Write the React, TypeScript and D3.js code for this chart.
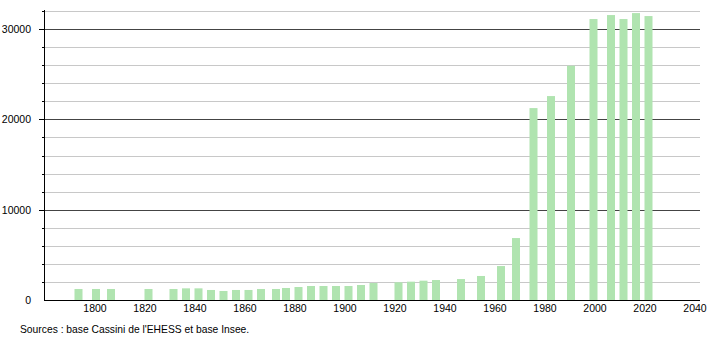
import React from "react";
import * as d3 from "d3";

const years = [1793, 1800, 1806, 1821, 1831, 1836, 1841, 1846, 1851, 1856, 1861, 1866, 1872, 1876, 1881, 1886, 1891, 1896, 1901, 1906, 1911, 1921, 1926, 1931, 1936, 1946, 1954, 1962, 1968, 1975, 1982, 1990, 1999, 2006, 2011, 2016, 2021];
const population = [1220, 1220, 1220, 1220, 1220, 1290, 1290, 1110, 1000, 1110, 1110, 1220, 1220, 1330, 1440, 1550, 1550, 1550, 1550, 1660, 1880, 1960, 2030, 2140, 2210, 2320, 2660, 3760, 6860, 21250, 22580, 25940, 31110, 31550, 31110, 31770, 31440];
const xTicks = [1800, 1820, 1840, 1860, 1880, 1900, 1920, 1940, 1960, 1980, 2000, 2020, 2040];
const yLabelTicks = [0, 10000, 20000, 30000];
const gridTicks = d3.range(2000, 32001, 2000);
const sourceText = "Sources : base Cassini de l'EHESS et base Insee.";

const W = 710;
const H = 340;
const left = 44;
const right = 700;
const bottom = 300;
const top = 10;

export default function App() {
  const x = d3.scaleLinear().domain([1779.6, 2042]).range([left, right]);
  const y = d3.scaleLinear().domain([0, 32000]).range([bottom, 11]);
  const barW = 8;
  const font = "'Liberation Sans', Arial, sans-serif";
  return (
    <svg width={W} height={H} style={{ position: "absolute", left: 0, top: 0 }} fontFamily={font}>
      <rect x={0} y={0} width={W} height={H} fill="#fff" />
      {gridTicks.map((t) => (
        <line key={"g" + t} x1={left} x2={right} y1={Math.round(y(t)) + 0.5} y2={Math.round(y(t)) + 0.5}
          stroke={t % 10000 === 0 ? "#444" : "#c8c8c8"} strokeWidth={1} />
      ))}
      {gridTicks.map((t) => (
        <line key={"t" + t} x1={t % 10000 === 0 ? left - 5 : left - 2} x2={left} y1={Math.round(y(t)) + 0.5} y2={Math.round(y(t)) + 0.5}
          stroke="#000" strokeWidth={1} />
      ))}
      {years.map((yr, i) => (
        <rect key={yr} x={x(yr) - barW / 2 + 1} y={y(population[i])} width={barW} height={bottom - y(population[i])} fill="#b0e4b0" />
      ))}
      <line x1={left + 0.5} x2={left + 0.5} y1={top} y2={bottom} stroke="#000" />
      <line x1={left} x2={right} y1={bottom + 0.5} y2={bottom + 0.5} stroke="#000" />
      {yLabelTicks.map((t) => (
        <text key={"yl" + t} x={31} y={y(t) + 4} textAnchor="end" fontSize={10.5} fill="#000">{t}</text>
      ))}
      {xTicks.map((t) => (
        <text key={"xl" + t} x={x(t)} y={312} textAnchor="middle" fontSize={10.5} fill="#000">{t}</text>
      ))}
      <text x={20} y={333} fontSize={10.3} fill="#000">{sourceText}</text>
    </svg>
  );
}
